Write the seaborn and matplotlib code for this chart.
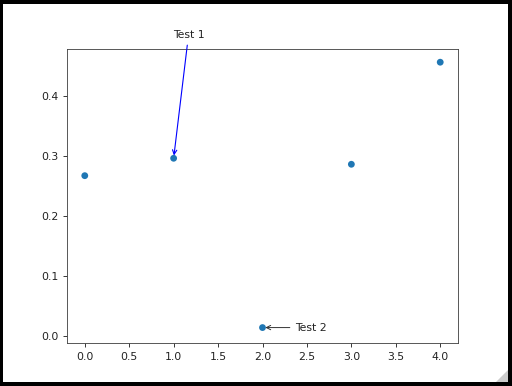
import matplotlib
matplotlib.use("Agg")
import matplotlib.pyplot as plt
from matplotlib.patches import Rectangle, Polygon
import seaborn as sns
import pandas as pd

x_vals = [0, 1, 2, 3, 4]
y_vals = [0.267, 0.296, 0.014, 0.286, 0.456]
labels = ["Test 1", "Test 2"]

df = pd.DataFrame({"x": x_vals, "y": y_vals})

plt.rcParams["font.family"] = ["DejaVu Sans"]
fig = plt.figure(figsize=(5.12, 3.86), dpi=100)
fig.patch.set_facecolor("black")
fig.add_artist(Rectangle((3/512, 4/386), 505/512, 378/386, transform=fig.transFigure,
                         facecolor="white", edgecolor="none", zorder=0))
fig.add_artist(Polygon([(508/512, 4/386), (496/512, 4/386), (508/512, 16/386)],
                       closed=True, transform=fig.transFigure,
                       facecolor="#cccccc", edgecolor="none", zorder=0.5))

ax = fig.add_axes([67/512, 43/386, 391/512, 294/386])
sns.scatterplot(data=df, x="x", y="y", ax=ax, color="#1f77b4", s=24,
                edgecolor="none", linewidth=0, legend=False)
ax.set_xlabel("")
ax.set_ylabel("")
ax.set_xlim(-0.2, 4.2)
ax.set_ylim(-0.0117, 0.478)
ax.set_xticks([0, 0.5, 1, 1.5, 2, 2.5, 3, 3.5, 4])
ax.set_yticks([0, 0.1, 0.2, 0.3, 0.4])
ax.tick_params(labelsize=7.8, width=0.63, length=2.8, colors="#222222")
for sp in ax.spines.values():
    sp.set_linewidth(0.63)
    sp.set_color("#444444")

ax.annotate(labels[0], xy=(x_vals[1], y_vals[1]), xytext=(0.99, 0.497),
            fontsize=7.8, color="#222222", annotation_clip=False,
            arrowprops=dict(arrowstyle="->", color="blue", lw=0.8))
ax.annotate(labels[1], xy=(x_vals[2], y_vals[2]), xytext=(2.37, y_vals[2]), va="center",
            fontsize=7.8, color="#222222",
            arrowprops=dict(arrowstyle="->", color="#333333", lw=0.7))

fig.savefig("out.png", dpi=100, facecolor=fig.get_facecolor())
